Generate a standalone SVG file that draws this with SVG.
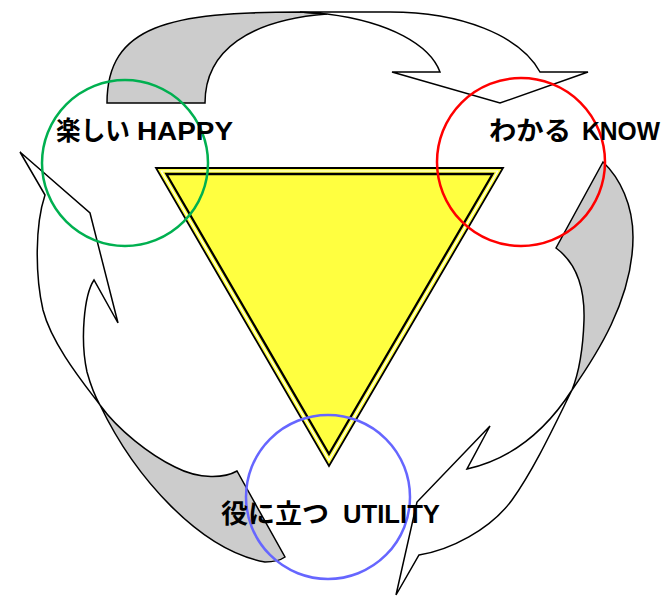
<svg xmlns="http://www.w3.org/2000/svg" width="663" height="597" viewBox="0 0 663 597">
<style>
.face{fill:#cccccc;stroke:#000;stroke-width:1.5;stroke-linejoin:miter}
.front{fill:#ffffff;stroke:#000;stroke-width:1.5;stroke-linejoin:miter}
.ring{fill:none;stroke-width:2.5}
.lbl{font-family:"Liberation Sans","Noto Sans CJK JP",sans-serif;font-size:26px;font-weight:bold;fill:#000}
.jp{font-family:"Noto Sans CJK JP","Liberation Sans",sans-serif;font-size:26px;font-weight:bold}
</style>
<rect width="663" height="597" fill="#ffffff"/>
<g id="connectors">
  <g id="arrow-top">
    <path class="face" d="M107,103 C107,25 170,12 300,12 L327,14 C250,20 205,50 205,103 Z"/>
    <path class="front" d="M300,12 L390,12 C460,12 520,35 540,72 L588,72 L500,103 L392,72 L440,72 C430,45 390,22 327,14 Z"/>
  </g>
  <g id="arrow-right">
    <path class="face" d="M603,162 L556,248 C575,262 585,285 584,320 C583,350 578,375 572,390 C595,357 633,300 633,237 C633,205 620,178 603,162 Z"/>
    <path class="front" d="M572,390 Q530,455 467,469 L490,426 L417,502 L396,595 L419,555 C450,550 490,530 512,500 C535,468 557,420 572,390 Z"/>
  </g>
  <g id="arrow-left">
    <path class="face" d="M100,405 C135,478 200,550 265,562 Q278,562 285,557 L237,471 C225,478 200,480 175,467 C150,455 118,430 100,405 Z"/>
    <path class="front" d="M45,195 L20,152 L90,213 L118,323 L94,280 C84,295 80,340 87,372 C92,390 96,398 100,405 C85,385 52,345 43,310 C35,275 35,225 45,195 Z"/>
  </g>
</g>
<g id="triangle">
  <polygon points="156,168 503,168 329,466" fill="#ffff40" stroke="#000" stroke-width="1.8" stroke-linejoin="miter"/>
  <polygon points="161.2,171 497.8,171 329,460" fill="none" stroke="#ffffff" stroke-width="1.2"/>
  <polygon points="166.4,174 492.6,174 329,454" fill="#ffff40" stroke="#000" stroke-width="2.3" stroke-linejoin="miter"/>
</g>
<g id="happy">
  <circle class="ring" cx="125" cy="163" r="83" stroke="#00b050"/>
  <text class="lbl" x="56" y="140"><tspan class="jp" textLength="74" lengthAdjust="spacingAndGlyphs">楽しい</tspan> <tspan x="137" textLength="96" lengthAdjust="spacingAndGlyphs">HAPPY</tspan></text>
</g>
<g id="know">
  <circle class="ring" cx="521" cy="162" r="84" stroke="#ff0000"/>
  <text class="lbl" x="489" y="140"><tspan class="jp" textLength="82" lengthAdjust="spacingAndGlyphs">わかる</tspan> <tspan x="582" textLength="78" lengthAdjust="spacingAndGlyphs">KNOW</tspan></text>
</g>
<g id="utility">
  <circle class="ring" cx="328" cy="497" r="82" stroke="#6666ff"/>
  <text class="lbl" x="221" y="523"><tspan class="jp" textLength="108" lengthAdjust="spacingAndGlyphs">役に立つ</tspan> <tspan x="343" textLength="97" lengthAdjust="spacingAndGlyphs">UTILITY</tspan></text>
</g>
</svg>
